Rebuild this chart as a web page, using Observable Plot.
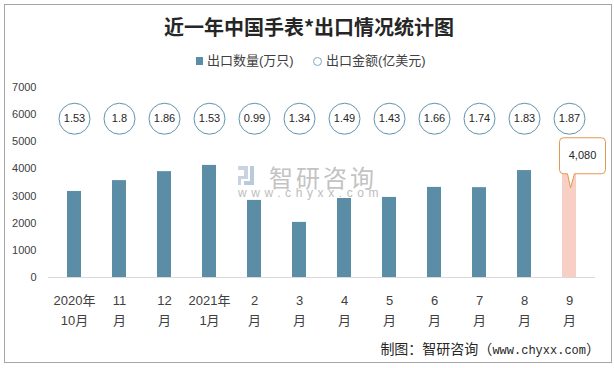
<!DOCTYPE html>
<html><head><meta charset="utf-8">
<script src="https://cdn.jsdelivr.net/npm/d3@7"></script>
<script src="https://cdn.jsdelivr.net/npm/@observablehq/plot@0.6"></script>
<style>
body{margin:0;background:#fff;font-family:"Liberation Sans","Noto Sans CJK SC",sans-serif;}
#wrap{position:relative;width:614px;height:368px;overflow:hidden;background:#fff;}
#frame{position:absolute;left:4px;top:4px;width:606px;height:357px;border:1px solid #a6a6a6;}
#title{position:absolute;left:0;top:12px;width:618px;text-align:center;font-size:20px;font-weight:bold;color:#262626;font-family:"Noto Sans CJK SC",sans-serif;line-height:30px;white-space:nowrap;}
.lg{position:absolute;font-size:13px;color:#404040;line-height:18px;top:52px;white-space:nowrap;}
#sw1{position:absolute;left:196px;top:57px;width:7px;height:8px;background:#5b8ea6;}
#sw2{position:absolute;left:313px;top:57px;width:7px;height:7px;border:1px solid #7fa9bf;border-radius:50%;}
#wm1{position:absolute;left:269px;top:166px;font-size:24px;letter-spacing:3px;color:#c3c3c3;line-height:22px;font-family:"Noto Sans CJK SC",sans-serif;}
#wm2{position:absolute;left:238px;top:188px;font-size:12px;letter-spacing:4.6px;color:#bdbdbd;line-height:11px;}
.ic{position:absolute;background:#c9d3e2;}
#chart{position:absolute;left:0;top:75px;}
#caption{position:absolute;right:14px;top:338px;font-size:14px;color:#262626;line-height:20px;white-space:nowrap;font-family:"Noto Sans CJK SC",sans-serif;}
#caption span{font-family:"Liberation Mono",monospace;font-size:12px;}
</style></head>
<body>
<div id="wrap">
  <div id="frame"></div>
  <div id="title">近一年中国手表*出口情况统计图</div>
  <div id="sw1"></div><div class="lg" style="left:207px">出口数量(万只)</div>
  <div id="sw2"></div><div class="lg" style="left:326px">出口金额(亿美元)</div>
  <div class="ic" style="left:238px;top:166px;width:10px;height:4px"></div>
  <div class="ic" style="left:244px;top:170px;width:4px;height:6px"></div>
  <div class="ic" style="left:238px;top:176px;width:10px;height:3px"></div>
  <div class="ic" style="left:238px;top:179px;width:3px;height:6px"></div>
  <div class="ic" style="left:250px;top:166px;width:4px;height:19px;background:#b9c9de"></div>
  <div class="ic" style="left:244px;top:181px;width:6px;height:4px;background:#b9c9de"></div>
  <div id="wm1">智研咨询</div>
  <div id="wm2">www.chyxx.com</div>
  <div id="chart"></div>
  <div id="caption">制图：智研咨询（<span>www.chyxx.com</span>）</div>
</div>
<script>
const months = ["2020年\n10月","11\n月","12\n月","2021年\n1月","2\n月","3\n月","4\n月","5\n月","6\n月","7\n月","8\n月","9\n月"];
const quantity = [3170,3570,3900,4130,2840,2030,2910,2950,3320,3310,3940,4080];
const amount = [1.53,1.8,1.86,1.53,0.99,1.34,1.49,1.43,1.66,1.74,1.83,1.87];
const yTicks = [0,1000,2000,3000,4000,5000,6000,7000];

const data = months.map((m,i)=>({month:m, q:quantity[i], a:amount[i]}));
const last = data.slice(-1);
const rest = data.slice(0,-1);

const callout = {
  draw(ctx){
    const x0=-10,x1=36,y0=-29,y1=7,r=4;
    ctx.moveTo(x0+r,y0);
    ctx.lineTo(x1-r,y0); ctx.arcTo(x1,y0,x1,y0+r,r);
    ctx.lineTo(x1,y1-r); ctx.arcTo(x1,y1,x1-r,y1,r);
    ctx.lineTo(5,y1); ctx.lineTo(1,21); ctx.lineTo(-2,y1);
    ctx.lineTo(x0+r,y1); ctx.arcTo(x0,y1,x0,y1-r,r);
    ctx.lineTo(x0,y0+r); ctx.arcTo(x0,y0,x0+r,y0,r);
    ctx.closePath();
  }
};

const chart = Plot.plot({
  width:614, height:255,
  marginLeft:48, marginRight:19, marginTop:12, marginBottom:53,
  style:{background:"transparent", fontFamily:'"Liberation Sans","Noto Sans CJK SC",sans-serif'},
  x:{domain:months, paddingInner:0.69, paddingOuter:0.345, label:null},
  y:{domain:[0,7000], label:null},
  marks:[
    Plot.barY(rest,{x:"month", y:"q", fill:"#5b8ea6"}),
    Plot.barY(last,{x:"month", y:"q", fill:"#f7cfc4"}),
    Plot.ruleY([0],{stroke:"#d9d9d9", strokeWidth:1}),
    Plot.axisY({ticks:yTicks, tickFormat:d3.format("d"), tickSize:0, tickPadding:12, fontSize:11, color:"#404040", label:null}),
    Plot.axisX({tickSize:0, tickPadding:13, fontSize:13, lineHeight:1.54, color:"#404040", label:null}),
    Plot.dot(data,{x:"month", y:()=>5850, r:15.5, fill:"white", stroke:"#5f93ab", strokeWidth:1}),
    Plot.text(data,{x:"month", y:()=>5850, text:d=>String(d.a), fontSize:11, fill:"#262626"}),
    Plot.dot(last,{x:"month", y:"q", symbol:callout, r:10, fill:"white", stroke:"#e2994f", strokeWidth:1}),
    Plot.text(last,{x:"month", y:"q", text:d=>d3.format(",")(d.q), dx:13, dy:-11, fontSize:11, fill:"#262626"})
  ]
});
document.getElementById("chart").appendChild(chart);
</script>
</body></html>
